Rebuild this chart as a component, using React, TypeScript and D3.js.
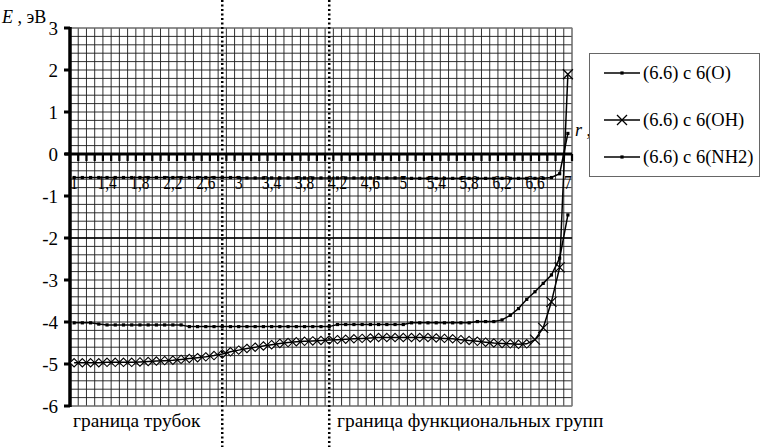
import React from "react";
import * as d3 from "d3";

const categories: number[] = [
  1.0, 1.1, 1.2, 1.3, 1.4, 1.5, 1.6, 1.7, 1.8, 1.9,
  2.0, 2.1, 2.2, 2.3, 2.4, 2.5, 2.6, 2.7, 2.8, 2.9,
  3.0, 3.1, 3.2, 3.3, 3.4, 3.5, 3.6, 3.7, 3.8, 3.9,
  4.0, 4.1, 4.2, 4.3, 4.4, 4.5, 4.6, 4.7, 4.8, 4.9,
  5.0, 5.1, 5.2, 5.3, 5.4, 5.5, 5.6, 5.7, 5.8, 5.9,
  6.0, 6.1, 6.2, 6.3, 6.4, 6.5, 6.6, 6.7, 6.8, 6.9,
  7.0,
];

const xTickLabels: string[] = ["1", "1,4", "1,8", "2,2", "2,6", "3", "3,4", "3,8", "4,2", "4,6", "5", "5,4", "5,8", "6,2", "6,6", "7"];
const yTicks: number[] = [3, 2, 1, 0, -1, -2, -3, -4, -5, -6];

const seriesO: number[] = [
  -0.56, -0.56, -0.56, -0.56, -0.56, -0.56, -0.56, -0.56, -0.56, -0.56,
  -0.56, -0.56, -0.56, -0.56, -0.56, -0.56, -0.56, -0.56, -0.56, -0.56,
  -0.56, -0.57, -0.57, -0.57, -0.57, -0.57, -0.57, -0.57, -0.57, -0.57,
  -0.57, -0.57, -0.57, -0.57, -0.57, -0.57, -0.57, -0.57, -0.57, -0.57,
  -0.57, -0.58, -0.58, -0.58, -0.58, -0.58, -0.58, -0.58, -0.58, -0.58,
  -0.58, -0.58, -0.58, -0.58, -0.58, -0.58, -0.58, -0.58, -0.56, -0.47,
  0.49,
];

const seriesOH: number[] = [
  -4.97, -4.97, -4.97, -4.97, -4.96, -4.96, -4.96, -4.96, -4.95, -4.94,
  -4.93, -4.92, -4.91, -4.89, -4.87, -4.85, -4.83, -4.8, -4.76, -4.71,
  -4.67, -4.63, -4.6, -4.57, -4.54, -4.51, -4.49, -4.47, -4.46, -4.45,
  -4.44, -4.43, -4.42, -4.41, -4.4, -4.39, -4.38, -4.37, -4.37, -4.37,
  -4.37, -4.37, -4.37, -4.37, -4.38, -4.39, -4.4, -4.42, -4.44, -4.46,
  -4.48, -4.5, -4.51, -4.52, -4.53, -4.52, -4.42, -4.14, -3.52, -2.7,
  1.9,
];

const seriesNH2: number[] = [
  -4.02, -4.02, -4.02, -4.05, -4.07, -4.07, -4.07, -4.07, -4.07, -4.07,
  -4.07, -4.07, -4.07, -4.07, -4.11, -4.11, -4.11, -4.11, -4.11, -4.11,
  -4.11, -4.11, -4.11, -4.11, -4.11, -4.11, -4.11, -4.11, -4.11, -4.11,
  -4.11, -4.11, -4.06, -4.06, -4.06, -4.06, -4.06, -4.06, -4.06, -4.06,
  -4.06, -4.02, -4.02, -4.02, -4.02, -4.02, -4.02, -4.02, -4.02, -3.99,
  -3.99, -3.99, -3.95, -3.84, -3.68, -3.46, -3.28, -3.08, -2.88, -2.48,
  -1.45,
];

const legendLabels: string[] = ["(6.6) с 6(O)", "(6.6) с 6(OH)", "(6.6) с 6(NH2)"];
const boundaryCats: number[] = [2.8, 4.1];
const boundaryLabels: string[] = ["граница трубок", "граница функциональных групп"];

const FONT = "Liberation Serif";

export default function App() {
  const W = 761, H = 447;
  const left = 70, right = 572, top = 28, bottom = 406;
  const x = d3.scaleBand<number>().domain(categories).range([left, right]).padding(0);
  const y = d3.scaleLinear().domain([-6, 3]).range([bottom, top]);
  const bw = x.bandwidth();
  const cx = (c: number) => (x(c) as number) + bw / 2;

  const line = d3.line<number>().x((_, i) => cx(categories[i])).y((v) => y(v)).curve(d3.curveLinear);

  const hGrid = d3.range(0, 46).map((k) => -6 + k * 0.2);
  const vGrid = d3.range(0, categories.length + 1).map((k) => left + k * bw);

  const dia = (px: number, py: number, s = 4.2) =>
    `M${px},${py - s}L${px + s},${py}L${px},${py + s}L${px - s},${py}Z`;
  const cross = (px: number, py: number, s = 5) =>
    `M${px - s},${py - s}L${px + s},${py + s}M${px - s},${py + s}L${px + s},${py - s}`;

  const legendY = [73, 120, 157];
  const tf = { fontFamily: FONT };

  return (
    <svg width={W} height={H} style={{ position: "absolute", left: 0, top: 0, background: "#fff", fontFamily: FONT }}>
      <rect x={0} y={0} width={W} height={H} fill="#fff" />
      {/* grid */}
      <g stroke="#1a1a1a" strokeWidth={0.9}>
        {hGrid.map((v, i) => (
          <line key={"h" + i} x1={left} x2={right} y1={y(v)} y2={y(v)} />
        ))}
        {vGrid.map((vx, i) => (
          <line key={"v" + i} x1={vx} x2={vx} y1={top} y2={bottom} />
        ))}
      </g>
      <rect x={left} y={top} width={right - left} height={bottom - top} fill="none" stroke="#888" strokeWidth={1} />
      <line x1={left} x2={right} y1={y(-2)} y2={y(-2)} stroke="#000" strokeWidth={1.6} />

      {/* x axis at 0 */}
      <line x1={left - 5} x2={right} y1={y(0)} y2={y(0)} stroke="#000" strokeWidth={3} />
      {vGrid.slice(1).map((vx, i) => (
        <line key={"xt" + i} x1={vx} x2={vx} y1={y(0)} y2={y(0) + 7} stroke="#000" strokeWidth={2.2} />
      ))}

      {/* y axis */}
      <line x1={left} x2={left} y1={top - 1} y2={bottom + 1} stroke="#000" strokeWidth={3.5} />
      {yTicks.map((t) => (
        <g key={"yt" + t}>
          <line x1={left - 6} x2={left} y1={y(t)} y2={y(t)} stroke="#000" strokeWidth={3} />
          <text x={58} y={y(t) + 6.5} textAnchor="end" fontSize={19} style={tf}>
            {t < 0 ? "-" + Math.abs(t) : String(t)}
          </text>
        </g>
      ))}

      {/* series O */}
      <path d={line(seriesO) as string} fill="none" stroke="#000" strokeWidth={1.5} />
      {seriesO.map((v, i) => (
        <rect key={"o" + i} x={cx(categories[i]) - 1.6} y={y(v) - 1.6} width={3.2} height={3.2} fill="#000" />
      ))}

      {/* x tick labels */}
      {xTickLabels.map((lab, i) => (
        <text key={"xl" + i} transform={`translate(${cx(categories[i * 4])},188.5) scale(0.85,1)`} textAnchor="middle" fontSize={18} style={tf}>
          {lab}
        </text>
      ))}

      {/* series NH2 */}
      <path d={line(seriesNH2) as string} fill="none" stroke="#000" strokeWidth={1.5} />
      {seriesNH2.map((v, i) => (
        <rect key={"n" + i} x={cx(categories[i]) - 1.6} y={y(v) - 1.6} width={3.2} height={3.2} fill="#000" />
      ))}

      {/* series OH */}
      {seriesOH.map((v, i) =>
        i < 56 ? (
          <path key={"d" + i} d={dia(cx(categories[i]), y(v))} fill="#fff" stroke="#000" strokeWidth={1.1} />
        ) : null
      )}
      <path d={line(seriesOH) as string} fill="none" stroke="#000" strokeWidth={1.5} />
      {seriesOH.map((v, i) =>
        i >= 56 ? (
          <path key={"x" + i} d={cross(cx(categories[i]), y(v))} fill="none" stroke="#000" strokeWidth={1.3} />
        ) : null
      )}

      {/* boundary lines */}
      {boundaryCats.map((c, i) => (
        <line key={"b" + i} x1={cx(c)} x2={cx(c)} y1={0} y2={H} stroke="#000" strokeWidth={2.5} strokeDasharray="2,2.5" />
      ))}
      <text x={73} y={427} fontSize={19.4} style={tf}>{boundaryLabels[0]}</text>
      <text x={337} y={427} fontSize={19.4} style={tf}>{boundaryLabels[1]}</text>

      {/* axis titles */}
      <text x={2} y={23} fontSize={18} style={tf}>
        <tspan fontStyle="italic">E</tspan>
        <tspan> , эВ</tspan>
      </text>
      <text x={575} y={136} fontSize={18} style={tf}>
        <tspan fontStyle="italic">r</tspan>
        <tspan> , Å</tspan>
      </text>

      {/* legend */}
      <rect x={589.5} y={53.5} width={170} height={123} fill="#fff" stroke="#666" strokeWidth={1} />
      {legendLabels.map((lab, i) => (
        <g key={"lg" + i}>
          <line x1={604} x2={640} y1={legendY[i]} y2={legendY[i]} stroke="#000" strokeWidth={1.5} />
          {i === 1 ? (
            <path d={cross(622, legendY[i], 5)} stroke="#000" strokeWidth={1.3} fill="none" />
          ) : (
            <rect x={620.4} y={legendY[i] - 1.6} width={3.2} height={3.2} fill="#000" />
          )}
          <text x={643} y={legendY[i] + 6} fontSize={18.5} style={tf}>{lab}</text>
        </g>
      ))}
    </svg>
  );
}
